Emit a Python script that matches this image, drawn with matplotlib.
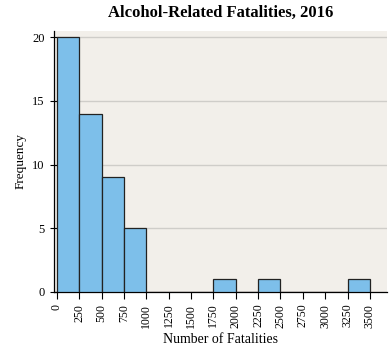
import numpy as np
import matplotlib.pyplot as plt

plt.rcParams['font.family'] = 'Liberation Serif'

bin_left = [0, 250, 500, 750, 1000, 1250, 1500, 1750, 2000, 2250, 2500, 2750, 3000, 3250]
freq = [20, 14, 9, 5, 0, 0, 0, 1, 0, 1, 0, 0, 0, 1]
xticks = np.arange(0, 3501, 250)

fig = plt.figure(figsize=(3.9, 3.56), dpi=100)
ax = fig.add_axes([0.138, 0.180, 0.854, 0.733])
ax.set_facecolor('#f2efea')
ax.bar(bin_left, freq, width=250, align='edge', color='#7dbfea',
       edgecolor='#222222', linewidth=0.9, zorder=3)
ax.set_xlim(-34, 3690)
ax.set_ylim(0, 20.5)
ax.set_yticks([0, 5, 10, 15, 20])
ax.set_xticks(xticks)
ax.set_xticklabels([str(t) for t in xticks], rotation=90, fontsize=8.5)
ax.tick_params(axis='y', labelsize=9, direction='inout', length=6, width=0.8)
ax.tick_params(axis='x', direction='out', length=5, width=0.8)
ax.grid(axis='y', color='#cfcdc9', linewidth=1, zorder=0)
for s in ['top', 'right']:
    ax.spines[s].set_visible(False)
ax.spines['left'].set_linewidth(0.9)
ax.spines['bottom'].set_linewidth(0.9)
ax.set_xlabel('Number of Fatalities', fontsize=10)
ax.set_ylabel('Frequency', fontsize=9.5)
fig.text(0.565, 0.965, 'Alcohol-Related Fatalities, 2016', fontsize=12,
         fontweight='bold', ha='center', va='center')
fig.savefig('out.png', dpi=100)
